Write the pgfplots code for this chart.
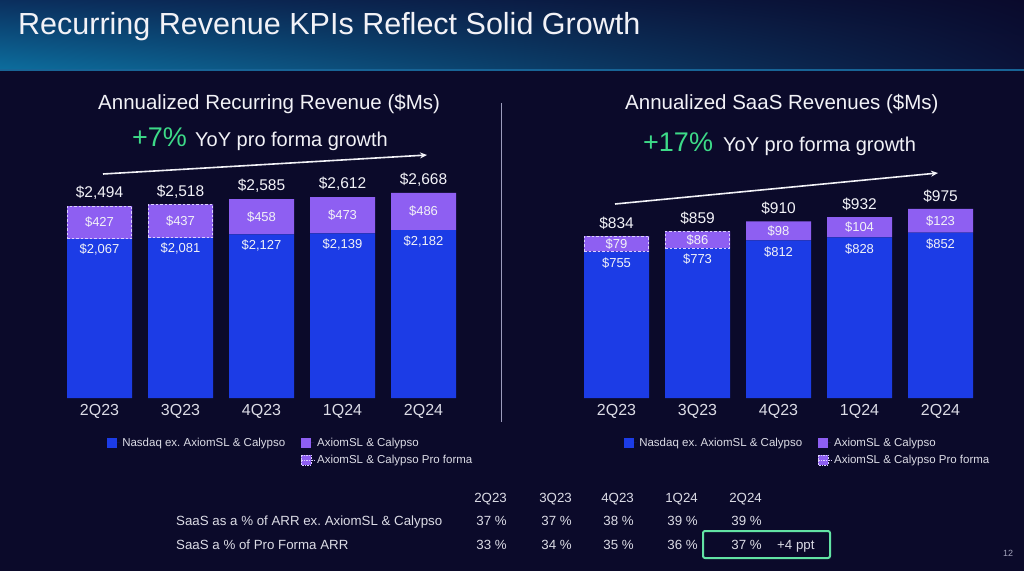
\documentclass[border=0pt]{standalone}
\usepackage{fontspec}
\setmainfont{Liberation Sans}
\usepackage{pgfplots}
\pgfplotsset{compat=1.18}
\usepackage{pgfplotstable}
\usetikzlibrary{arrows.meta,shadings}

\definecolor{bg}{HTML}{0B0A2A}
\definecolor{barblue}{HTML}{1C3CE6}
\definecolor{barpurple}{HTML}{8E5FF2}
\definecolor{dashcol}{HTML}{DCD0FF}
\definecolor{txt}{HTML}{F2F2F7}
\definecolor{soft}{HTML}{DCDCE6}
\definecolor{growth}{HTML}{3DDA88}
\definecolor{boxgreen}{HTML}{62E3A4}
\definecolor{divider}{HTML}{9C9CBC}
\definecolor{pagenum}{HTML}{A4A4BC}
\definecolor{bandLL}{HTML}{0C6E9E}
\definecolor{bandUL}{HTML}{0B2F5E}
\definecolor{bandLR}{HTML}{0B1238}
\definecolor{bandUR}{HTML}{0A0A2C}
\definecolor{bandline}{HTML}{186496}

\newcommand{\fs}[1]{\fontsize{#1}{#1}\selectfont}

% ARR and SaaS revenue, $M
\pgfplotstableread{
q blue purple total
0 2067 427 2494
1 2081 437 2518
2 2127 458 2585
3 2139 473 2612
4 2182 486 2668
}\arrdata
\pgfplotstableread{
q blue purple total
0 755 79 834
1 773 86 859
2 812 98 910
3 828 104 932
4 852 123 975
}\saasdata

\pgfplotsset{
  /pgf/number format/assume math mode=true,
  swatch/.style={legend image code/.code={%
    \path[##1] (0pt,-5pt) rectangle (10pt,5pt);
    \path (0pt,0pt) -- (13pt,0pt);}},
  kpibars/.style={
    ybar stacked, bar width=65pt,
    scale only axis, width=405pt, height=260pt,
    xmin=-0.5, xmax=4.5, ymin=0, enlargelimits=false,
    xtick={0,...,4}, xticklabels={2Q23,3Q23,4Q23,1Q24,2Q24},
    ytick=\empty,
    axis line style={draw=none}, major tick style={draw=none},
    xticklabel style={font=\fs{16}, text=soft, yshift=-3pt},
    legend columns=2, legend cell align=left,
    legend style={at={(0.1175,-0.1423)}, anchor=north west, draw=none, fill=none,
      inner sep=0pt, font=\fs{11.5}, text=soft, nodes={inner sep=2.5pt}, row sep=2.5pt,
      /tikz/every even column/.append style={column sep=13pt}},
  },
  kpioverlay/.style={
    scale only axis, width=405pt, height=260pt,
    xmin=-0.5, xmax=4.5, ymin=0, enlargelimits=false,
    hide axis, clip=false,
  },
  lbl/.style={draw=none, nodes near coords={\$\pgfmathprintnumber{\pgfplotspointmeta}},
    nodes near coords style={anchor=center, text=txt, font=\fs{#1}, inner sep=0pt}},
  proforma/.style={draw=dashcol, line width=1pt, dash pattern=on 2.5pt off 2pt},
}

\begin{document}
\begin{tikzpicture}
\fill[bg] (0,0) rectangle (1024pt,571pt);
\shade[upper left=bandUL, lower left=bandLL, upper right=bandUR, lower right=bandLR]
  (0,501pt) rectangle (1024pt,571pt);

% ---- left: ARR ----
\begin{axis}[kpibars, at={(59pt,173pt)}, anchor=south west, ymax=3380]
  \addplot[fill=barblue, draw=none, swatch] table[x=q, y=blue] {\arrdata};
  \addlegendentry{Nasdaq ex.\ AxiomSL \& Calypso}
  \addplot[fill=barpurple, draw=none, swatch] table[x=q, y=purple] {\arrdata};
  \addlegendentry{AxiomSL \& Calypso}
  \addlegendimage{empty legend}
  \addlegendentry{}
  \addlegendimage{swatch, fill=barpurple, draw=dashcol, line width=0.8pt, dash pattern=on 1.5pt off 1pt}
  \addlegendentry{AxiomSL \& Calypso Pro forma}
\end{axis}
\begin{axis}[kpioverlay, at={(59pt,173pt)}, anchor=south west, ymax=3380]
  \addplot[proforma] coordinates {(-0.4,2067) (0.4,2067) (0.4,2494) (-0.4,2494) (-0.4,2067)};
  \addplot[proforma] coordinates {(0.6,2081) (1.4,2081) (1.4,2518) (0.6,2518) (0.6,2081)};
  \addplot[lbl=15.5, point meta=\thisrow{total}, nodes near coords style={yshift=13pt}]
    table[x=q, y=total] {\arrdata};
  \addplot[lbl=13, point meta=\thisrow{purple}]
    table[x=q, y expr=\thisrow{blue}+0.5*\thisrow{purple}] {\arrdata};
  \addplot[lbl=13, point meta=\thisrow{blue}, nodes near coords style={yshift=-11pt}]
    table[x=q, y=blue] {\arrdata};
\end{axis}

% ---- right: SaaS ----
\begin{axis}[kpibars, at={(576pt,173pt)}, anchor=south west, ymax=1340.3]
  \addplot[fill=barblue, draw=none, swatch] table[x=q, y=blue] {\saasdata};
  \addlegendentry{Nasdaq ex.\ AxiomSL \& Calypso}
  \addplot[fill=barpurple, draw=none, swatch] table[x=q, y=purple] {\saasdata};
  \addlegendentry{AxiomSL \& Calypso}
  \addlegendimage{empty legend}
  \addlegendentry{}
  \addlegendimage{swatch, fill=barpurple, draw=dashcol, line width=0.8pt, dash pattern=on 1.5pt off 1pt}
  \addlegendentry{AxiomSL \& Calypso Pro forma}
\end{axis}
\begin{axis}[kpioverlay, at={(576pt,173pt)}, anchor=south west, ymax=1340.3]
  \addplot[proforma] coordinates {(-0.4,755) (0.4,755) (0.4,834) (-0.4,834) (-0.4,755)};
  \addplot[proforma] coordinates {(0.6,773) (1.4,773) (1.4,859) (0.6,859) (0.6,773)};
  \addplot[lbl=15.5, point meta=\thisrow{total}, nodes near coords style={yshift=13pt}]
    table[x=q, y=total] {\saasdata};
  \addplot[lbl=13, point meta=\thisrow{purple}]
    table[x=q, y expr=\thisrow{blue}+0.5*\thisrow{purple}] {\saasdata};
  \addplot[lbl=13, point meta=\thisrow{blue}, nodes near coords style={yshift=-11.5pt}]
    table[x=q, y=blue] {\saasdata};
\end{axis}

% ---- slide text, pixel coordinates from the top left ----
\begin{scope}[x=1pt, y=-1pt, shift={(0pt,571pt)}]
  \draw[bandline, line width=1.5pt] (0,70) -- (1024,70);
  \node[anchor=base west, inner sep=0, text=txt, font=\fs{30.5}] at (18,35)
    {Recurring Revenue KPIs Reflect Solid Growth};

  \node[anchor=base west, inner sep=0, text=txt, font=\fs{20.5}] at (98,110)
    {Annualized Recurring Revenue (\$Ms)};
  \node[anchor=base west, inner sep=0, text=growth, font=\fs{27}] at (132,147) {+7\%};
  \node[anchor=base west, inner sep=0, text=txt, font=\fs{20}] at (195,147) {YoY pro forma growth};
  \draw[txt, line width=1.6pt, -{Stealth[length=7pt, width=6pt]}] (103,174) -- (427,155);

  \node[anchor=base west, inner sep=0, text=txt, font=\fs{20.5}] at (625,110)
    {Annualized SaaS Revenues (\$Ms)};
  \node[anchor=base west, inner sep=0, text=growth, font=\fs{27}] at (643,152) {+17\%};
  \node[anchor=base west, inner sep=0, text=txt, font=\fs{20}] at (723,152) {YoY pro forma growth};
  \draw[txt, line width=1.6pt, -{Stealth[length=7pt, width=6pt]}] (615,204) -- (938,173);

  \draw[divider, line width=1.5pt] (501.5,103) -- (501.5,422);

  % ratio table
  \begin{scope}[every node/.style={inner sep=0, text=soft, font=\fs{13.3}}]
    \foreach \x/\h in {507/2Q23, 572/3Q23, 634/4Q23, 698/1Q24, 762/2Q24}
      \node[anchor=base east] at (\x,502) {\h};
    \node[anchor=base west] at (176,525) {SaaS as a \% of ARR ex.\ AxiomSL \& Calypso};
    \foreach \x/\v in {507/37, 572/37, 634/38, 698/39, 762/39}
      \node[anchor=base east] at (\x,525) {\v\ \%};
    \node[anchor=base west] at (176,549) {SaaS a \% of Pro Forma ARR};
    \foreach \x/\v in {507/33, 572/34, 634/35, 698/36, 762/37}
      \node[anchor=base east] at (\x,549) {\v\ \%};
    \node[anchor=base west] at (777,549) {+4 ppt};
  \end{scope}
  \draw[boxgreen, line width=2pt, rounded corners=2pt] (703,531) rectangle (830,558);

  \node[inner sep=0, text=pagenum, font=\fs{9}] at (1008,553) {12};
\end{scope}

\pgfresetboundingbox
\path[use as bounding box] (0,0) rectangle (1024pt,571pt);
\end{tikzpicture}
\end{document}
